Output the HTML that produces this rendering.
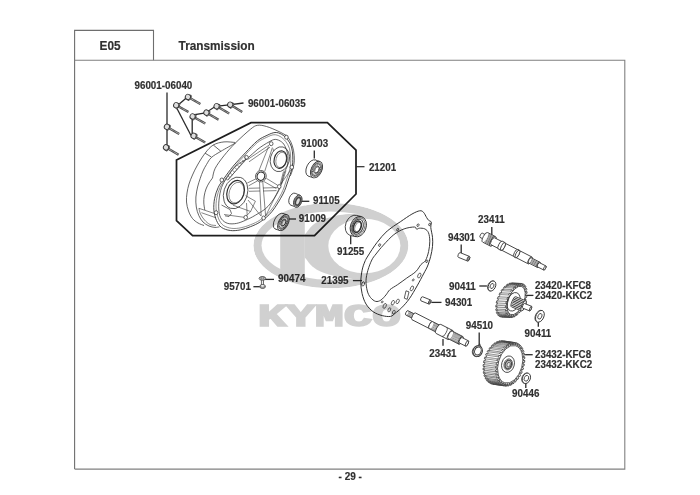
<!DOCTYPE html>
<html><head><meta charset="utf-8"><title>E05 Transmission</title>
<style>
html,body{margin:0;padding:0;background:#fff;}
body{width:700px;height:495px;overflow:hidden;position:relative;font-family:"Liberation Sans",Arial,sans-serif;}
svg{position:absolute;left:0;top:0;display:block}
svg text{font-family:"Liberation Sans",Arial,sans-serif;font-weight:bold;}
</style></head><body>
<svg width="700" height="495" viewBox="0 0 700 495">
<path d="M74.60 469.00 L74.60 30.40 L153.50 30.40 L153.50 60.30" fill="none" stroke="#6e6e6e" stroke-width="1.1" />
<path d="M74.60 60.30 L624.80 60.30 L624.80 469.10 L74.60 469.10" fill="none" stroke="#808080" stroke-width="1.1" />
<text transform="translate(110.00 49.50) scale(0.968 1)" font-size="12.21" text-anchor="middle" fill="#303030" stroke="#303030" stroke-width="0.18" >E05</text>
<text transform="translate(178.60 49.50) scale(0.968 1)" font-size="12.21" text-anchor="start" fill="#303030" stroke="#303030" stroke-width="0.18" >Transmission</text>
<text transform="translate(350.20 479.90) scale(0.968 1)" font-size="10.35" text-anchor="middle" fill="#303030" stroke="#303030" stroke-width="0.18" >- 29 -</text>
<path d="M176.50 160.00 L251.00 122.70 L327.40 122.70 L356.00 150.00 L356.00 194.00 L314.50 235.70 L192.60 235.70 L176.50 220.70Z" fill="none" stroke="#1e1e1e" stroke-width="1.75" />
<line x1="356.00" y1="166.70" x2="364.50" y2="166.70" stroke="#2a2a2a" stroke-width="1.2" />
<text transform="translate(134.50 88.80) scale(0.968 1)" font-size="10.14" text-anchor="start" fill="#303030" stroke="#303030" stroke-width="0.18" >96001-06040</text>
<text transform="translate(247.90 106.70) scale(0.968 1)" font-size="10.14" text-anchor="start" fill="#303030" stroke="#303030" stroke-width="0.18" >96001-06035</text>
<text transform="translate(300.90 146.50) scale(0.968 1)" font-size="10.14" text-anchor="start" fill="#303030" stroke="#303030" stroke-width="0.18" >91003</text>
<text transform="translate(368.90 170.70) scale(0.968 1)" font-size="10.14" text-anchor="start" fill="#303030" stroke="#303030" stroke-width="0.18" >21201</text>
<text transform="translate(313.00 204.30) scale(0.968 1)" font-size="10.14" text-anchor="start" fill="#303030" stroke="#303030" stroke-width="0.18" >91105</text>
<text transform="translate(298.80 222.40) scale(0.968 1)" font-size="10.14" text-anchor="start" fill="#303030" stroke="#303030" stroke-width="0.18" >91009</text>
<text transform="translate(337.00 255.00) scale(0.968 1)" font-size="10.14" text-anchor="start" fill="#303030" stroke="#303030" stroke-width="0.18" >91255</text>
<text transform="translate(448.00 241.40) scale(0.968 1)" font-size="10.14" text-anchor="start" fill="#303030" stroke="#303030" stroke-width="0.18" >94301</text>
<text transform="translate(478.10 222.70) scale(0.968 1)" font-size="10.14" text-anchor="start" fill="#303030" stroke="#303030" stroke-width="0.18" >23411</text>
<text transform="translate(278.10 282.40) scale(0.968 1)" font-size="10.14" text-anchor="start" fill="#303030" stroke="#303030" stroke-width="0.18" >90474</text>
<text transform="translate(223.70 289.70) scale(0.968 1)" font-size="10.14" text-anchor="start" fill="#303030" stroke="#303030" stroke-width="0.18" >95701</text>
<text transform="translate(321.30 284.00) scale(0.968 1)" font-size="10.14" text-anchor="start" fill="#303030" stroke="#303030" stroke-width="0.18" >21395</text>
<text transform="translate(449.10 289.70) scale(0.968 1)" font-size="10.14" text-anchor="start" fill="#303030" stroke="#303030" stroke-width="0.18" >90411</text>
<text transform="translate(534.90 288.80) scale(0.968 1)" font-size="10.14" text-anchor="start" fill="#303030" stroke="#303030" stroke-width="0.18" >23420-KFC8</text>
<text transform="translate(534.90 299.30) scale(0.968 1)" font-size="10.14" text-anchor="start" fill="#303030" stroke="#303030" stroke-width="0.18" >23420-KKC2</text>
<text transform="translate(445.00 306.10) scale(0.968 1)" font-size="10.14" text-anchor="start" fill="#303030" stroke="#303030" stroke-width="0.18" >94301</text>
<text transform="translate(524.60 337.00) scale(0.968 1)" font-size="10.14" text-anchor="start" fill="#303030" stroke="#303030" stroke-width="0.18" >90411</text>
<text transform="translate(465.80 328.50) scale(0.968 1)" font-size="10.14" text-anchor="start" fill="#303030" stroke="#303030" stroke-width="0.18" >94510</text>
<text transform="translate(429.30 356.70) scale(0.968 1)" font-size="10.14" text-anchor="start" fill="#303030" stroke="#303030" stroke-width="0.18" >23431</text>
<text transform="translate(535.00 357.50) scale(0.968 1)" font-size="10.14" text-anchor="start" fill="#303030" stroke="#303030" stroke-width="0.18" >23432-KFC8</text>
<text transform="translate(535.00 368.40) scale(0.968 1)" font-size="10.14" text-anchor="start" fill="#303030" stroke="#303030" stroke-width="0.18" >23432-KKC2</text>
<text transform="translate(512.10 397.00) scale(0.968 1)" font-size="10.14" text-anchor="start" fill="#303030" stroke="#303030" stroke-width="0.18" >90446</text>
<line x1="167.00" y1="92.50" x2="167.00" y2="148.00" stroke="#2a2a2a" stroke-width="1.3" />
<path d="M186.00 98.30 L177.80 105.30" fill="none" stroke="#2a2a2a" stroke-width="1.3" />
<path d="M176.20 107.00 L191.00 135.50" fill="none" stroke="#2a2a2a" stroke-width="1.3" />
<path d="M192.20 135.00 L192.20 115.00 L205.50 113.00 L215.50 106.30 L229.00 104.80 L243.50 103.00" fill="none" stroke="#2a2a2a" stroke-width="1.3" />
<line x1="314.30" y1="150.40" x2="314.30" y2="158.50" stroke="#2a2a2a" stroke-width="1.3" />
<line x1="301.00" y1="201.30" x2="309.30" y2="201.30" stroke="#2a2a2a" stroke-width="1.3" />
<line x1="289.00" y1="219.00" x2="296.00" y2="219.00" stroke="#2a2a2a" stroke-width="1.3" />
<line x1="350.70" y1="235.60" x2="350.70" y2="244.20" stroke="#2a2a2a" stroke-width="1.3" />
<line x1="461.20" y1="244.50" x2="461.20" y2="253.00" stroke="#2a2a2a" stroke-width="1.3" />
<line x1="491.80" y1="227.00" x2="491.80" y2="235.50" stroke="#2a2a2a" stroke-width="1.3" />
<line x1="264.90" y1="279.40" x2="274.00" y2="279.40" stroke="#2a2a2a" stroke-width="1.3" />
<line x1="253.40" y1="286.70" x2="259.80" y2="286.70" stroke="#2a2a2a" stroke-width="1.3" />
<line x1="352.90" y1="280.60" x2="362.00" y2="280.60" stroke="#2a2a2a" stroke-width="1.3" />
<line x1="479.30" y1="286.00" x2="486.90" y2="286.00" stroke="#2a2a2a" stroke-width="1.3" />
<line x1="526.40" y1="295.40" x2="533.40" y2="295.40" stroke="#2a2a2a" stroke-width="1.3" />
<line x1="431.30" y1="302.40" x2="441.50" y2="302.40" stroke="#2a2a2a" stroke-width="1.3" />
<line x1="538.30" y1="321.00" x2="538.30" y2="326.70" stroke="#2a2a2a" stroke-width="1.3" />
<line x1="479.20" y1="332.60" x2="479.20" y2="345.70" stroke="#2a2a2a" stroke-width="1.3" />
<line x1="443.00" y1="338.90" x2="443.00" y2="345.70" stroke="#2a2a2a" stroke-width="1.3" />
<line x1="525.10" y1="354.70" x2="532.70" y2="354.70" stroke="#2a2a2a" stroke-width="1.3" />
<line x1="525.80" y1="383.30" x2="525.80" y2="387.90" stroke="#2a2a2a" stroke-width="1.3" />
<line x1="189.81" y1="97.99" x2="200.40" y2="104.00" stroke="#4a4a4a" stroke-width="2.3" stroke-linecap="butt"/>
<line x1="189.81" y1="97.99" x2="200.40" y2="104.00" stroke="#e6e6e6" stroke-width="1.0" stroke-dasharray="0.7 0.7"/>
<ellipse cx="189.55" cy="97.84" rx="1.30" ry="3.10" transform="rotate(29.596575037530357 189.55 97.84)" fill="#f2f2f2" stroke="#333" stroke-width="0.7"/>
<ellipse cx="187.90" cy="96.90" rx="2.60" ry="2.70" transform="rotate(29.596575037530357 187.90 96.90)" fill="#dedede" stroke="#333" stroke-width="0.9"/>
<line x1="178.13" y1="106.26" x2="188.50" y2="112.00" stroke="#4a4a4a" stroke-width="2.3" stroke-linecap="butt"/>
<line x1="178.13" y1="106.26" x2="188.50" y2="112.00" stroke="#e6e6e6" stroke-width="1.0" stroke-dasharray="0.7 0.7"/>
<ellipse cx="177.86" cy="106.12" rx="1.30" ry="3.10" transform="rotate(28.935815507328336 177.86 106.12)" fill="#f2f2f2" stroke="#333" stroke-width="0.7"/>
<ellipse cx="176.20" cy="105.20" rx="2.60" ry="2.70" transform="rotate(28.935815507328336 176.20 105.20)" fill="#dedede" stroke="#333" stroke-width="0.9"/>
<line x1="168.81" y1="127.90" x2="179.20" y2="133.90" stroke="#4a4a4a" stroke-width="2.3" stroke-linecap="butt"/>
<line x1="168.81" y1="127.90" x2="179.20" y2="133.90" stroke="#e6e6e6" stroke-width="1.0" stroke-dasharray="0.7 0.7"/>
<ellipse cx="168.55" cy="127.75" rx="1.30" ry="3.10" transform="rotate(29.995079617139844 168.55 127.75)" fill="#f2f2f2" stroke="#333" stroke-width="0.7"/>
<ellipse cx="166.90" cy="126.80" rx="2.60" ry="2.70" transform="rotate(29.995079617139844 166.90 126.80)" fill="#dedede" stroke="#333" stroke-width="0.9"/>
<line x1="167.90" y1="148.50" x2="178.60" y2="154.70" stroke="#4a4a4a" stroke-width="2.3" stroke-linecap="butt"/>
<line x1="167.90" y1="148.50" x2="178.60" y2="154.70" stroke="#e6e6e6" stroke-width="1.0" stroke-dasharray="0.7 0.7"/>
<ellipse cx="167.64" cy="148.35" rx="1.30" ry="3.10" transform="rotate(30.086504554000182 167.64 148.35)" fill="#f2f2f2" stroke="#333" stroke-width="0.7"/>
<ellipse cx="166.00" cy="147.40" rx="2.60" ry="2.70" transform="rotate(30.086504554000182 166.00 147.40)" fill="#dedede" stroke="#333" stroke-width="0.9"/>
<line x1="194.51" y1="117.49" x2="205.30" y2="123.60" stroke="#4a4a4a" stroke-width="2.3" stroke-linecap="butt"/>
<line x1="194.51" y1="117.49" x2="205.30" y2="123.60" stroke="#e6e6e6" stroke-width="1.0" stroke-dasharray="0.7 0.7"/>
<ellipse cx="194.25" cy="117.34" rx="1.30" ry="3.10" transform="rotate(29.55016401934337 194.25 117.34)" fill="#f2f2f2" stroke="#333" stroke-width="0.7"/>
<ellipse cx="192.60" cy="116.40" rx="2.60" ry="2.70" transform="rotate(29.55016401934337 192.60 116.40)" fill="#dedede" stroke="#333" stroke-width="0.9"/>
<line x1="208.29" y1="113.72" x2="218.60" y2="119.80" stroke="#4a4a4a" stroke-width="2.3" stroke-linecap="butt"/>
<line x1="208.29" y1="113.72" x2="218.60" y2="119.80" stroke="#e6e6e6" stroke-width="1.0" stroke-dasharray="0.7 0.7"/>
<ellipse cx="208.04" cy="113.57" rx="1.30" ry="3.10" transform="rotate(30.547571748907053 208.04 113.57)" fill="#f2f2f2" stroke="#333" stroke-width="0.7"/>
<ellipse cx="206.40" cy="112.60" rx="2.60" ry="2.70" transform="rotate(30.547571748907053 206.40 112.60)" fill="#dedede" stroke="#333" stroke-width="0.9"/>
<line x1="218.50" y1="107.30" x2="229.20" y2="113.50" stroke="#4a4a4a" stroke-width="2.3" stroke-linecap="butt"/>
<line x1="218.50" y1="107.30" x2="229.20" y2="113.50" stroke="#e6e6e6" stroke-width="1.0" stroke-dasharray="0.7 0.7"/>
<ellipse cx="218.24" cy="107.15" rx="1.30" ry="3.10" transform="rotate(30.08650455400023 218.24 107.15)" fill="#f2f2f2" stroke="#333" stroke-width="0.7"/>
<ellipse cx="216.60" cy="106.20" rx="2.60" ry="2.70" transform="rotate(30.08650455400023 216.60 106.20)" fill="#dedede" stroke="#333" stroke-width="0.9"/>
<line x1="232.08" y1="105.84" x2="242.20" y2="112.00" stroke="#4a4a4a" stroke-width="2.3" stroke-linecap="butt"/>
<line x1="232.08" y1="105.84" x2="242.20" y2="112.00" stroke="#e6e6e6" stroke-width="1.0" stroke-dasharray="0.7 0.7"/>
<ellipse cx="231.82" cy="105.69" rx="1.30" ry="3.10" transform="rotate(31.31354327018971 231.82 105.69)" fill="#f2f2f2" stroke="#333" stroke-width="0.7"/>
<ellipse cx="230.20" cy="104.70" rx="2.60" ry="2.70" transform="rotate(31.31354327018971 230.20 104.70)" fill="#dedede" stroke="#333" stroke-width="0.9"/>
<line x1="195.50" y1="136.91" x2="205.20" y2="142.60" stroke="#4a4a4a" stroke-width="2.3" stroke-linecap="butt"/>
<line x1="195.50" y1="136.91" x2="205.20" y2="142.60" stroke="#e6e6e6" stroke-width="1.0" stroke-dasharray="0.7 0.7"/>
<ellipse cx="195.24" cy="136.76" rx="1.30" ry="3.10" transform="rotate(30.379126011368292 195.24 136.76)" fill="#f2f2f2" stroke="#333" stroke-width="0.7"/>
<ellipse cx="193.60" cy="135.80" rx="2.60" ry="2.70" transform="rotate(30.379126011368292 193.60 135.80)" fill="#dedede" stroke="#333" stroke-width="0.9"/>
<path d="M235.30 142.50 C233.42 142.40 227.67 141.48 224.00 141.90 C220.33 142.32 216.45 143.12 213.30 145.00 C210.15 146.88 207.73 149.87 205.10 153.20 C202.47 156.53 199.60 161.37 197.50 165.00 C195.40 168.63 193.92 171.83 192.50 175.00 C191.08 178.17 189.92 181.00 189.00 184.00 C188.08 187.00 187.42 190.00 187.00 193.00 C186.58 196.00 186.25 199.00 186.50 202.00 C186.75 205.00 187.50 208.25 188.50 211.00 C189.50 213.75 190.92 216.50 192.50 218.50 C194.08 220.50 196.08 221.83 198.00 223.00 C199.92 224.17 203.00 225.08 204.00 225.50" fill="none" stroke="#333" stroke-width="0.75" />
<path d="M235.30 143.10 C232.90 144.47 224.88 148.90 220.90 151.30 C216.92 153.70 213.80 155.30 211.40 157.50 C209.00 159.70 207.90 162.25 206.50 164.50 C205.10 166.75 204.05 168.67 203.00 171.00 C201.95 173.33 201.10 175.83 200.20 178.50 C199.30 181.17 198.32 183.92 197.60 187.00 C196.88 190.08 196.12 193.67 195.90 197.00 C195.68 200.33 195.82 203.92 196.30 207.00 C196.78 210.08 197.68 213.00 198.80 215.50 C199.92 218.00 201.30 220.25 203.00 222.00 C204.70 223.75 207.00 225.10 209.00 226.00 C211.00 226.90 213.25 227.27 215.00 227.40 C216.75 227.53 218.75 226.90 219.50 226.80" fill="none" stroke="#333" stroke-width="0.75" />
<path d="M205.10 153.20 L211.40 157.00" fill="none" stroke="#333" stroke-width="0.75" />
<path d="M213.30 145.00 L220.90 151.30" fill="none" stroke="#333" stroke-width="0.75" />
<path d="M212.50 178.00 C212.95 176.38 213.28 172.02 215.20 168.30 C217.12 164.58 220.65 159.90 224.00 155.70 C227.35 151.50 230.90 147.50 235.30 143.10 C239.70 138.70 246.70 132.27 250.40 129.30 C254.10 126.33 254.82 125.77 257.50 125.30 C260.18 124.83 263.12 125.55 266.50 126.50 C269.88 127.45 274.45 129.48 277.80 131.00 C281.15 132.52 285.13 134.83 286.60 135.60" fill="none" stroke="#333" stroke-width="0.75" />
<path d="M267.10 135.30 C270.03 133.92 272.58 132.67 275.00 132.50 C277.42 132.33 279.52 133.13 281.60 134.30 C283.68 135.47 285.85 137.38 287.50 139.50 C289.15 141.62 290.62 144.08 291.50 147.00 C292.38 149.92 292.72 153.50 292.80 157.00 C292.88 160.50 292.80 164.00 292.00 168.00 C291.20 172.00 289.50 176.67 288.00 181.00 C286.50 185.33 285.67 188.92 283.00 194.00 C280.33 199.08 275.75 206.88 272.00 211.50 C268.25 216.12 264.10 219.17 260.50 221.70 C256.90 224.23 253.77 225.33 250.40 226.70 C247.03 228.07 243.65 229.27 240.30 229.90 C236.95 230.53 233.43 230.92 230.30 230.50 C227.17 230.08 223.80 229.07 221.50 227.40 C219.20 225.73 217.77 223.37 216.50 220.50 C215.23 217.63 214.22 213.87 213.90 210.20 C213.58 206.53 213.88 202.28 214.60 198.50 C215.32 194.72 216.62 190.87 218.20 187.50 C219.78 184.13 221.60 181.85 224.10 178.30 C226.60 174.75 229.67 170.43 233.20 166.20 C236.73 161.97 241.27 157.13 245.30 152.90 C249.33 148.67 253.77 143.73 257.40 140.80 C261.03 137.87 264.17 136.68 267.10 135.30Z" fill="#fff" stroke="#333" stroke-width="0.9" />
<path d="M266.41 137.41 C269.19 136.09 271.60 134.90 273.88 134.74 C276.16 134.58 278.15 135.34 280.12 136.46 C282.09 137.57 284.13 139.40 285.69 141.42 C287.25 143.44 288.64 145.80 289.47 148.59 C290.31 151.37 290.62 154.79 290.70 158.14 C290.78 161.48 290.70 164.82 289.95 168.64 C289.19 172.46 287.58 176.92 286.17 181.06 C284.75 185.19 283.96 188.62 281.44 193.47 C278.92 198.32 274.59 205.77 271.05 210.18 C267.50 214.59 263.58 217.50 260.18 219.92 C256.78 222.34 253.81 223.39 250.63 224.70 C247.45 226.00 244.25 227.15 241.09 227.75 C237.92 228.36 234.60 228.73 231.64 228.33 C228.68 227.93 225.50 226.96 223.32 225.37 C221.15 223.78 219.79 221.52 218.60 218.78 C217.40 216.04 216.44 212.44 216.14 208.94 C215.84 205.44 216.12 201.38 216.80 197.77 C217.48 194.15 218.71 190.48 220.20 187.26 C221.70 184.05 223.42 181.87 225.78 178.48 C228.14 175.09 231.04 170.96 234.38 166.92 C237.72 162.88 242.00 158.26 245.81 154.22 C249.63 150.18 253.81 145.47 257.25 142.66 C260.68 139.86 263.64 138.73 266.41 137.41Z" fill="none" stroke="#333" stroke-width="0.55" />
<path d="M269.00 141.90 C271.88 140.30 273.20 139.40 275.30 139.40 C277.40 139.40 279.93 140.65 281.60 141.90 C283.27 143.15 284.25 144.60 285.30 146.90 C286.35 149.20 287.58 152.55 287.90 155.70 C288.22 158.85 287.83 162.87 287.20 165.80 C286.57 168.73 285.47 169.27 284.10 173.30 C282.73 177.33 281.68 184.48 279.00 190.00 C276.32 195.52 271.93 202.20 268.00 206.40 C264.07 210.60 259.17 212.88 255.40 215.20 C251.63 217.52 248.53 218.93 245.40 220.30 C242.27 221.67 239.53 222.88 236.60 223.40 C233.67 223.92 230.32 224.13 227.80 223.40 C225.28 222.67 222.97 220.98 221.50 219.00 C220.03 217.02 219.42 214.65 219.00 211.50 C218.58 208.35 218.58 204.08 219.00 200.10 C219.42 196.12 220.15 191.37 221.50 187.60 C222.85 183.83 224.68 181.10 227.10 177.50 C229.52 173.90 232.58 169.22 236.00 166.00 C239.42 162.78 243.93 161.03 247.60 158.20 C251.27 155.37 254.43 151.72 258.00 149.00 C261.57 146.28 266.12 143.50 269.00 141.90Z" fill="none" stroke="#333" stroke-width="0.75" />
<path d="M286.60 135.60 C287.30 136.65 289.63 139.38 290.80 141.90 C291.97 144.42 293.02 147.57 293.60 150.70 C294.18 153.83 294.40 157.77 294.30 160.70 C294.20 163.63 293.65 165.78 293.00 168.30 C292.35 170.82 290.83 174.55 290.40 175.80" fill="none" stroke="#333" stroke-width="0.75" />
<ellipse cx="279.90" cy="159.20" rx="9.50" ry="12.60" transform="rotate(14 279.90 159.20)" fill="none" stroke="#333" stroke-width="0.75"/>
<ellipse cx="280.40" cy="159.60" rx="6.20" ry="8.90" transform="rotate(14 280.40 159.60)" fill="none" stroke="#2e2e2e" stroke-width="1.15"/>
<ellipse cx="281.10" cy="159.90" rx="5.10" ry="7.80" transform="rotate(14 281.10 159.90)" fill="none" stroke="#333" stroke-width="0.5"/>
<ellipse cx="235.60" cy="192.90" rx="11.80" ry="16.20" transform="rotate(18 235.60 192.90)" fill="none" stroke="#333" stroke-width="0.75"/>
<ellipse cx="235.60" cy="192.20" rx="8.50" ry="12.00" transform="rotate(18 235.60 192.20)" fill="none" stroke="#2e2e2e" stroke-width="1.2"/>
<ellipse cx="236.50" cy="192.60" rx="7.20" ry="10.60" transform="rotate(18 236.50 192.60)" fill="none" stroke="#333" stroke-width="0.5"/>
<ellipse cx="260.90" cy="176.20" rx="5.30" ry="5.70" transform="rotate(15 260.90 176.20)" fill="none" stroke="#333" stroke-width="0.75"/>
<ellipse cx="260.90" cy="176.20" rx="3.80" ry="4.20" transform="rotate(15 260.90 176.20)" fill="none" stroke="#2e2e2e" stroke-width="1.1"/>
<ellipse cx="286.40" cy="137.20" rx="1.80" ry="2.00" transform="rotate(0 286.40 137.20)" fill="#fff" stroke="#333" stroke-width="0.75"/>
<ellipse cx="271.20" cy="143.70" rx="1.80" ry="2.00" transform="rotate(0 271.20 143.70)" fill="#fff" stroke="#333" stroke-width="0.75"/>
<ellipse cx="246.50" cy="157.40" rx="1.80" ry="2.00" transform="rotate(0 246.50 157.40)" fill="#fff" stroke="#333" stroke-width="0.75"/>
<ellipse cx="291.80" cy="167.20" rx="1.80" ry="2.00" transform="rotate(0 291.80 167.20)" fill="#fff" stroke="#333" stroke-width="0.75"/>
<ellipse cx="216.10" cy="212.70" rx="1.80" ry="2.00" transform="rotate(0 216.10 212.70)" fill="#fff" stroke="#333" stroke-width="0.75"/>
<ellipse cx="245.70" cy="217.40" rx="1.80" ry="2.00" transform="rotate(0 245.70 217.40)" fill="#fff" stroke="#333" stroke-width="0.75"/>
<ellipse cx="263.60" cy="218.00" rx="1.80" ry="2.00" transform="rotate(0 263.60 218.00)" fill="#fff" stroke="#333" stroke-width="0.75"/>
<ellipse cx="221.80" cy="180.00" rx="1.80" ry="2.00" transform="rotate(0 221.80 180.00)" fill="#fff" stroke="#333" stroke-width="0.75"/>
<ellipse cx="279.20" cy="186.60" rx="1.80" ry="2.00" transform="rotate(0 279.20 186.60)" fill="#fff" stroke="#333" stroke-width="0.75"/>
<path d="M268.60 146.50 L259.00 170.50" fill="none" stroke="#333" stroke-width="0.6" />
<path d="M272.40 147.50 L264.70 171.40" fill="none" stroke="#333" stroke-width="0.6" />
<path d="M266.40 178.40 L277.60 185.20" fill="none" stroke="#333" stroke-width="0.6" />
<path d="M263.90 181.50 L276.40 188.60" fill="none" stroke="#333" stroke-width="0.6" />
<path d="M259.50 182.00 L261.20 215.80" fill="none" stroke="#333" stroke-width="0.6" />
<path d="M262.80 182.00 L265.60 215.80" fill="none" stroke="#333" stroke-width="0.6" />
<path d="M248.60 188.30 L259.80 188.00" fill="none" stroke="#333" stroke-width="0.6" />
<path d="M263.00 188.00 L277.00 187.60" fill="none" stroke="#333" stroke-width="0.6" />
<path d="M249.00 191.30 L260.00 191.00" fill="none" stroke="#333" stroke-width="0.6" />
<path d="M263.20 191.00 L276.50 190.60" fill="none" stroke="#333" stroke-width="0.6" />
<path d="M256.20 178.70 L247.30 183.00" fill="none" stroke="#333" stroke-width="0.6" />
<path d="M257.60 180.80 L248.60 185.80" fill="none" stroke="#333" stroke-width="0.6" />
<path d="M247.60 159.50 L269.00 145.20" fill="none" stroke="#333" stroke-width="0.6" />
<path d="M249.00 161.80 L270.00 147.20" fill="none" stroke="#333" stroke-width="0.6" />
<path d="M248.00 200.00 L261.00 216.00" fill="none" stroke="#333" stroke-width="0.6" />
<path d="M246.50 203.00 L247.20 215.30" fill="none" stroke="#333" stroke-width="0.6" />
<path d="M265.60 216.00 L279.00 189.00" fill="none" stroke="#333" stroke-width="0.6" />
<path d="M280.50 184.50 L291.00 169.50" fill="none" stroke="#333" stroke-width="0.6" />
<path d="M224.00 214.50 L244.00 217.30" fill="none" stroke="#333" stroke-width="0.6" />
<path d="M246.00 158.80 L228.00 180.00" fill="none" stroke="#333" stroke-width="0.6" />
<path d="M283.50 171.50 L280.20 184.20" fill="none" stroke="#333" stroke-width="0.6" />
<path d="M286.00 170.50 L281.50 184.50" fill="none" stroke="#333" stroke-width="0.6" />
<path d="M273.00 148.50 L273.50 151.00" fill="none" stroke="#333" stroke-width="0.6" />
<path d="M212.50 178.00 C211.92 178.83 210.08 181.17 209.00 183.00 C207.92 184.83 206.80 186.83 206.00 189.00 C205.20 191.17 204.57 193.67 204.20 196.00 C203.83 198.33 203.70 200.67 203.80 203.00 C203.90 205.33 204.63 208.83 204.80 210.00" fill="none" stroke="#333" stroke-width="0.75" />
<path d="M198.90 208.30 L214.50 213.50" fill="none" stroke="#333" stroke-width="0.6" />
<path d="M201.40 212.70 L216.00 217.80" fill="none" stroke="#333" stroke-width="0.6" />
<path d="M198.90 208.30 C199.17 209.25 199.57 212.05 200.50 214.00 C201.43 215.95 202.92 218.25 204.50 220.00 C206.08 221.75 208.08 223.58 210.00 224.50 C211.92 225.42 215.00 225.33 216.00 225.50" fill="none" stroke="#333" stroke-width="0.6" />
<path d="M221.50 205.00 L230.00 209.50 L231.50 213.50 L229.00 216.50 L225.00 215.80" fill="none" stroke="#333" stroke-width="0.7" />
<path d="M245.60 195.70 L255.40 201.20 L250.60 211.50 L233.00 205.20" fill="none" stroke="#333" stroke-width="0.6" />
<path d="M250.60 211.50 L246.50 215.80" fill="none" stroke="#333" stroke-width="0.6" />
<path d="M225.50 178.50 L227.70 180.10" fill="none" stroke="#333" stroke-width="0.5" />
<path d="M227.88 175.88 L230.07 177.47" fill="none" stroke="#333" stroke-width="0.5" />
<path d="M230.25 173.25 L232.45 174.85" fill="none" stroke="#333" stroke-width="0.5" />
<path d="M232.62 170.62 L234.82 172.22" fill="none" stroke="#333" stroke-width="0.5" />
<path d="M235.00 168.00 L237.20 169.60" fill="none" stroke="#333" stroke-width="0.5" />
<path d="M237.38 165.38 L239.57 166.97" fill="none" stroke="#333" stroke-width="0.5" />
<path d="M239.75 162.75 L241.95 164.35" fill="none" stroke="#333" stroke-width="0.5" />
<path d="M242.12 160.12 L244.32 161.72" fill="none" stroke="#333" stroke-width="0.5" />
<path d="M244.50 157.50 L246.70 159.10" fill="none" stroke="#333" stroke-width="0.5" />
<path d="M227.30 180.30 L246.50 159.20" fill="none" stroke="#333" stroke-width="0.5" />
<ellipse cx="311.90" cy="168.10" rx="5.30" ry="8.80" transform="rotate(25 311.90 168.10)" fill="#fff" stroke="#333" stroke-width="0.8"/>
<path d="M313.14 177.72 L308.54 176.22 L315.26 159.98 L319.86 161.48Z" fill="#fff" stroke="none" stroke-width="0" />
<line x1="313.14" y1="177.72" x2="308.54" y2="176.22" stroke="#333" stroke-width="0.8" />
<line x1="319.86" y1="161.48" x2="315.26" y2="159.98" stroke="#333" stroke-width="0.8" />
<ellipse cx="316.50" cy="169.60" rx="5.30" ry="8.80" transform="rotate(25 316.50 169.60)" fill="#fff" stroke="#333" stroke-width="0.9"/>
<ellipse cx="316.50" cy="169.60" rx="4.45" ry="7.39" transform="rotate(25 316.50 169.60)" fill="none" stroke="#333" stroke-width="0.6"/>
<ellipse cx="316.50" cy="169.60" rx="3.71" ry="6.16" transform="rotate(25 316.50 169.60)" fill="none" stroke="#555" stroke-width="1.378"/>
<ellipse cx="316.50" cy="169.60" rx="3.60" ry="5.98" transform="rotate(25 316.50 169.60)" fill="none" stroke="#eee" stroke-width="0.64" stroke-dasharray="1.1 1.3"/>
<ellipse cx="316.50" cy="169.60" rx="2.44" ry="4.05" transform="rotate(25 316.50 169.60)" fill="#fff" stroke="#333" stroke-width="0.8"/>
<ellipse cx="317.00" cy="169.80" rx="1.95" ry="3.24" transform="rotate(25 317.00 169.80)" fill="none" stroke="#333" stroke-width="0.6"/>
<ellipse cx="279.20" cy="221.30" rx="4.80" ry="8.70" transform="rotate(28 279.20 221.30)" fill="#fff" stroke="#333" stroke-width="0.8"/>
<path d="M279.78 230.48 L275.58 229.18 L282.82 213.42 L287.02 214.72Z" fill="#fff" stroke="none" stroke-width="0" />
<line x1="279.78" y1="230.48" x2="275.58" y2="229.18" stroke="#333" stroke-width="0.8" />
<line x1="287.02" y1="214.72" x2="282.82" y2="213.42" stroke="#333" stroke-width="0.8" />
<ellipse cx="283.40" cy="222.60" rx="4.80" ry="8.70" transform="rotate(28 283.40 222.60)" fill="#fff" stroke="#333" stroke-width="0.9"/>
<ellipse cx="283.40" cy="222.60" rx="4.03" ry="7.31" transform="rotate(28 283.40 222.60)" fill="none" stroke="#333" stroke-width="0.6"/>
<ellipse cx="283.40" cy="222.60" rx="3.36" ry="6.09" transform="rotate(28 283.40 222.60)" fill="none" stroke="#555" stroke-width="1.248"/>
<ellipse cx="283.40" cy="222.60" rx="3.26" ry="5.92" transform="rotate(28 283.40 222.60)" fill="none" stroke="#eee" stroke-width="0.58" stroke-dasharray="1.1 1.3"/>
<ellipse cx="283.40" cy="222.60" rx="2.11" ry="3.83" transform="rotate(28 283.40 222.60)" fill="#fff" stroke="#333" stroke-width="0.8"/>
<ellipse cx="283.90" cy="222.80" rx="1.69" ry="3.06" transform="rotate(28 283.90 222.80)" fill="none" stroke="#333" stroke-width="0.6"/>
<ellipse cx="293.00" cy="199.20" rx="3.90" ry="6.30" transform="rotate(20 293.00 199.20)" fill="#fff" stroke="#333" stroke-width="0.8"/>
<path d="M295.54 207.08 L290.74 205.08 L295.26 193.32 L300.06 195.32Z" fill="#fff" stroke="none" stroke-width="0" />
<line x1="295.54" y1="207.08" x2="290.74" y2="205.08" stroke="#333" stroke-width="0.8" />
<line x1="300.06" y1="195.32" x2="295.26" y2="193.32" stroke="#333" stroke-width="0.8" />
<ellipse cx="297.80" cy="201.20" rx="3.90" ry="6.30" transform="rotate(20 297.80 201.20)" fill="#fff" stroke="#333" stroke-width="0.9"/>
<ellipse cx="297.80" cy="201.20" rx="3.10" ry="5.20" transform="rotate(20 297.80 201.20)" fill="none" stroke="#333" stroke-width="0.6"/>
<ellipse cx="298.00" cy="201.30" rx="2.20" ry="4.00" transform="rotate(20 298.00 201.30)" fill="#ddd" stroke="#444" stroke-width="1.5"/>
<ellipse cx="353.40" cy="225.40" rx="7.80" ry="10.50" transform="rotate(20 353.40 225.40)" fill="#fff" stroke="#333" stroke-width="0.8"/>
<path d="M355.31 236.65 L350.41 235.45 L356.39 215.35 L361.29 216.55Z" fill="#fff" stroke="none" stroke-width="0" />
<line x1="355.31" y1="236.65" x2="350.41" y2="235.45" stroke="#333" stroke-width="0.8" />
<line x1="361.29" y1="216.55" x2="356.39" y2="215.35" stroke="#333" stroke-width="0.8" />
<ellipse cx="358.30" cy="226.60" rx="7.80" ry="10.50" transform="rotate(20 358.30 226.60)" fill="#fff" stroke="#333" stroke-width="0.9"/>
<ellipse cx="358.10" cy="226.60" rx="6.60" ry="9.20" transform="rotate(20 358.10 226.60)" fill="none" stroke="#333" stroke-width="0.6"/>
<ellipse cx="357.70" cy="226.70" rx="5.30" ry="7.80" transform="rotate(20 357.70 226.70)" fill="none" stroke="#444" stroke-width="1.0"/>
<ellipse cx="357.30" cy="226.80" rx="3.70" ry="5.90" transform="rotate(20 357.30 226.80)" fill="none" stroke="#333" stroke-width="1.6"/>
<ellipse cx="357.90" cy="227.00" rx="2.80" ry="4.90" transform="rotate(20 357.90 227.00)" fill="none" stroke="#333" stroke-width="0.5"/>
<path d="M419.70 210.80 C421.63 210.50 422.35 211.18 423.50 212.30 C424.65 213.42 425.75 216.17 426.60 217.50 C427.45 218.83 427.82 219.52 428.60 220.30 C429.38 221.08 430.93 220.98 431.30 222.20 C431.67 223.42 430.60 225.08 430.80 227.60 C431.00 230.12 432.22 234.17 432.50 237.30 C432.78 240.43 432.82 243.17 432.50 246.40 C432.18 249.63 431.42 253.43 430.60 256.70 C429.78 259.97 428.78 263.12 427.60 266.00 C426.42 268.88 425.25 270.68 423.50 274.00 C421.75 277.32 419.47 281.77 417.10 285.90 C414.73 290.03 411.88 295.15 409.30 298.80 C406.72 302.45 403.97 305.38 401.60 307.80 C399.23 310.22 396.95 311.87 395.10 313.30 C393.25 314.73 392.65 316.02 390.50 316.40 C388.35 316.78 385.10 316.38 382.20 315.60 C379.30 314.82 375.80 313.63 373.10 311.70 C370.40 309.77 367.83 307.02 366.00 304.00 C364.17 300.98 362.97 297.27 362.10 293.60 C361.23 289.93 360.80 285.88 360.80 282.00 C360.80 278.12 361.45 273.63 362.10 270.30 C362.75 266.97 363.73 264.38 364.70 262.00 C365.67 259.62 365.85 259.25 367.90 256.00 C369.95 252.75 373.77 246.68 377.00 242.50 C380.23 238.32 383.42 234.35 387.30 230.90 C391.18 227.45 396.20 224.60 400.30 221.80 C404.40 219.00 408.67 215.93 411.90 214.10 C415.13 212.27 417.77 211.10 419.70 210.80Z" fill="none" stroke="#333" stroke-width="1.0" />
<path d="M414.50 227.00 C416.58 227.05 415.78 229.00 416.60 229.20 C417.42 229.40 418.03 228.25 419.40 228.20 C420.77 228.15 423.28 228.13 424.80 228.90 C426.32 229.67 427.67 230.75 428.50 232.80 C429.33 234.85 429.78 238.07 429.80 241.20 C429.82 244.33 429.32 248.38 428.60 251.60 C427.88 254.82 426.77 258.35 425.50 260.50 C424.23 262.65 422.62 262.65 421.00 264.50 C419.38 266.35 418.18 269.33 415.80 271.60 C413.42 273.87 409.72 275.93 406.70 278.10 C403.68 280.27 400.50 282.67 397.70 284.60 C394.90 286.53 391.85 287.98 389.90 289.70 C387.95 291.42 387.50 293.17 386.00 294.90 C384.50 296.63 382.62 299.02 380.90 300.10 C379.18 301.18 377.43 301.83 375.70 301.40 C373.97 300.97 371.90 299.23 370.50 297.50 C369.10 295.77 368.05 293.80 367.30 291.00 C366.55 288.20 365.90 284.15 366.00 280.70 C366.10 277.25 366.93 273.75 367.90 270.30 C368.87 266.85 370.45 262.72 371.80 260.00 C373.15 257.28 374.07 256.48 376.00 254.00 C377.93 251.52 380.43 248.32 383.40 245.10 C386.37 241.88 390.35 237.40 393.80 234.70 C397.25 232.00 400.65 230.18 404.10 228.90 C407.55 227.62 412.42 226.95 414.50 227.00Z" fill="none" stroke="#333" stroke-width="0.95" />
<ellipse cx="379.60" cy="245.10" rx="0.90" ry="1.40" transform="rotate(25 379.60 245.10)" fill="none" stroke="#333" stroke-width="0.8"/>
<ellipse cx="397.70" cy="229.60" rx="0.90" ry="1.40" transform="rotate(25 397.70 229.60)" fill="none" stroke="#333" stroke-width="0.8"/>
<ellipse cx="418.00" cy="225.20" rx="0.90" ry="1.40" transform="rotate(25 418.00 225.20)" fill="none" stroke="#333" stroke-width="0.8"/>
<ellipse cx="429.70" cy="224.40" rx="0.90" ry="1.40" transform="rotate(25 429.70 224.40)" fill="none" stroke="#333" stroke-width="0.8"/>
<ellipse cx="426.80" cy="261.30" rx="0.90" ry="1.40" transform="rotate(25 426.80 261.30)" fill="none" stroke="#333" stroke-width="0.8"/>
<ellipse cx="363.20" cy="283.90" rx="1.30" ry="2.20" transform="rotate(20 363.20 283.90)" fill="none" stroke="#333" stroke-width="0.8"/>
<ellipse cx="419.30" cy="275.50" rx="1.40" ry="2.60" transform="rotate(25 419.30 275.50)" fill="none" stroke="#333" stroke-width="0.7"/>
<ellipse cx="413.20" cy="280.00" rx="0.70" ry="1.20" transform="rotate(25 413.20 280.00)" fill="none" stroke="#333" stroke-width="0.7"/>
<ellipse cx="411.90" cy="288.40" rx="1.40" ry="2.60" transform="rotate(25 411.90 288.40)" fill="none" stroke="#333" stroke-width="0.7"/>
<ellipse cx="397.70" cy="301.40" rx="1.40" ry="2.40" transform="rotate(25 397.70 301.40)" fill="none" stroke="#333" stroke-width="0.7"/>
<ellipse cx="392.90" cy="302.70" rx="1.40" ry="2.40" transform="rotate(25 392.90 302.70)" fill="none" stroke="#333" stroke-width="0.7"/>
<ellipse cx="384.70" cy="305.90" rx="1.40" ry="2.60" transform="rotate(25 384.70 305.90)" fill="none" stroke="#333" stroke-width="0.7"/>
<ellipse cx="389.30" cy="309.80" rx="1.20" ry="2.20" transform="rotate(25 389.30 309.80)" fill="none" stroke="#333" stroke-width="0.7"/>
<ellipse cx="393.80" cy="312.20" rx="1.20" ry="2.00" transform="rotate(25 393.80 312.20)" fill="none" stroke="#333" stroke-width="0.7"/>
<ellipse cx="382.20" cy="302.00" rx="0.70" ry="1.10" transform="rotate(25 382.20 302.00)" fill="none" stroke="#333" stroke-width="0.7"/>
<path d="M406.00 290.80 L409.00 291.90 L407.20 299.30 L404.30 298.20Z" fill="none" stroke="#333" stroke-width="0.8" />
<g transform="translate(481.20 235.30) rotate(27.20)">
<path d="M0.00 -2.40 L5.00 -2.40 A0.91 2.40 0 0 1 5.00 2.40 L0.00 2.40 A0.91 2.40 0 0 1 0.00 -2.40 Z" fill="#fff" stroke="#333" stroke-width="0.8" />
<ellipse cx="5.00" cy="0" rx="0.91" ry="2.40" fill="#fff" stroke="#333" stroke-width="0.8"/>
<path d="M4.50 -5.40 L13.00 -5.40 A2.05 5.40 0 0 1 13.00 5.40 L4.50 5.40 A2.05 5.40 0 0 1 4.50 -5.40 Z" fill="#fff" stroke="#333" stroke-width="0.8" />
<path d="M5.73 -4.32 L14.23 -4.32" stroke="#444" stroke-width="0.65"/>
<path d="M6.14 -3.24 L14.64 -3.24" stroke="#444" stroke-width="0.65"/>
<path d="M6.38 -2.16 L14.88 -2.16" stroke="#444" stroke-width="0.65"/>
<path d="M6.51 -1.08 L15.01 -1.08" stroke="#444" stroke-width="0.65"/>
<path d="M6.55 0.00 L15.05 0.00" stroke="#444" stroke-width="0.65"/>
<path d="M6.51 1.08 L15.01 1.08" stroke="#444" stroke-width="0.65"/>
<path d="M6.38 2.16 L14.88 2.16" stroke="#444" stroke-width="0.65"/>
<path d="M6.14 3.24 L14.64 3.24" stroke="#444" stroke-width="0.65"/>
<path d="M5.73 4.32 L14.23 4.32" stroke="#444" stroke-width="0.65"/>
<ellipse cx="13.00" cy="0" rx="2.05" ry="5.40" fill="#fff" stroke="#333" stroke-width="0.8"/>
<path d="M13.00 -3.90 L54.80 -3.90 A1.48 3.90 0 0 1 54.80 3.90 L13.00 3.90 A1.48 3.90 0 0 1 13.00 -3.90 Z" fill="#fff" stroke="#333" stroke-width="0.8" />
<ellipse cx="54.80" cy="0" rx="1.48" ry="3.90" fill="#fff" stroke="#333" stroke-width="0.8"/>
<path d="M21.50 -4.40 L24.50 -4.40 A1.67 4.40 0 0 1 24.50 4.40 L21.50 4.40 A1.67 4.40 0 0 1 21.50 -4.40 Z" fill="#fff" stroke="#333" stroke-width="0.8" />
<ellipse cx="24.50" cy="0" rx="1.67" ry="4.40" fill="#fff" stroke="#333" stroke-width="0.8"/>
<path d="M39.00 -4.15 L40.80 -4.15 A1.58 4.15 0 0 1 40.80 4.15 L39.00 4.15 A1.58 4.15 0 0 1 39.00 -4.15 Z" fill="#fff" stroke="#333" stroke-width="0.8" />
<ellipse cx="40.80" cy="0" rx="1.58" ry="4.15" fill="#fff" stroke="#333" stroke-width="0.8"/>
<path d="M54.80 -2.90 L64.50 -2.90 A1.10 2.90 0 0 1 64.50 2.90 L54.80 2.90 A1.10 2.90 0 0 1 54.80 -2.90 Z" fill="#fff" stroke="#333" stroke-width="0.8" />
<path d="M55.68 -1.74 L65.38 -1.74" stroke="#444" stroke-width="0.65"/>
<path d="M55.88 -0.58 L65.58 -0.58" stroke="#444" stroke-width="0.65"/>
<path d="M55.88 0.58 L65.58 0.58" stroke="#444" stroke-width="0.65"/>
<path d="M55.68 1.74 L65.38 1.74" stroke="#444" stroke-width="0.65"/>
<ellipse cx="64.50" cy="0" rx="1.10" ry="2.90" fill="#fff" stroke="#333" stroke-width="0.8"/>
<path d="M64.50 -2.30 L71.50 -2.30 A0.87 2.30 0 0 1 71.50 2.30 L64.50 2.30 A0.87 2.30 0 0 1 64.50 -2.30 Z" fill="#fff" stroke="#333" stroke-width="0.8" />
<ellipse cx="71.50" cy="0" rx="0.87" ry="2.30" fill="#fff" stroke="#333" stroke-width="0.8"/>
</g>
<g transform="translate(406.80 312.80) rotate(27.00)">
<path d="M0.00 -2.40 L7.80 -2.40 A0.91 2.40 0 0 1 7.80 2.40 L0.00 2.40 A0.91 2.40 0 0 1 0.00 -2.40 Z" fill="#fff" stroke="#333" stroke-width="0.8" />
<path d="M0.97 -2.40 A0.91 2.40 0 0 1 0.97 2.40" fill="none" stroke="#555" stroke-width="0.55"/>
<path d="M1.95 -2.40 A0.91 2.40 0 0 1 1.95 2.40" fill="none" stroke="#555" stroke-width="0.55"/>
<path d="M2.92 -2.40 A0.91 2.40 0 0 1 2.92 2.40" fill="none" stroke="#555" stroke-width="0.55"/>
<path d="M3.90 -2.40 A0.91 2.40 0 0 1 3.90 2.40" fill="none" stroke="#555" stroke-width="0.55"/>
<path d="M4.88 -2.40 A0.91 2.40 0 0 1 4.88 2.40" fill="none" stroke="#555" stroke-width="0.55"/>
<path d="M5.85 -2.40 A0.91 2.40 0 0 1 5.85 2.40" fill="none" stroke="#555" stroke-width="0.55"/>
<path d="M6.83 -2.40 A0.91 2.40 0 0 1 6.83 2.40" fill="none" stroke="#555" stroke-width="0.55"/>
<ellipse cx="7.80" cy="0" rx="0.91" ry="2.40" fill="#fff" stroke="#333" stroke-width="0.8"/>
<path d="M7.80 -3.80 L27.00 -3.80 A1.44 3.80 0 0 1 27.00 3.80 L7.80 3.80 A1.44 3.80 0 0 1 7.80 -3.80 Z" fill="#fff" stroke="#333" stroke-width="0.8" />
<ellipse cx="27.00" cy="0" rx="1.44" ry="3.80" fill="#fff" stroke="#333" stroke-width="0.8"/>
<path d="M27.00 -3.90 L35.50 -3.90 A1.48 3.90 0 0 1 35.50 3.90 L27.00 3.90 A1.48 3.90 0 0 1 27.00 -3.90 Z" fill="#fff" stroke="#333" stroke-width="0.8" />
<path d="M28.06 -3.90 A1.48 3.90 0 0 1 28.06 3.90" fill="none" stroke="#555" stroke-width="0.55"/>
<path d="M29.12 -3.90 A1.48 3.90 0 0 1 29.12 3.90" fill="none" stroke="#555" stroke-width="0.55"/>
<path d="M30.19 -3.90 A1.48 3.90 0 0 1 30.19 3.90" fill="none" stroke="#555" stroke-width="0.55"/>
<path d="M31.25 -3.90 A1.48 3.90 0 0 1 31.25 3.90" fill="none" stroke="#555" stroke-width="0.55"/>
<path d="M32.31 -3.90 A1.48 3.90 0 0 1 32.31 3.90" fill="none" stroke="#555" stroke-width="0.55"/>
<path d="M33.38 -3.90 A1.48 3.90 0 0 1 33.38 3.90" fill="none" stroke="#555" stroke-width="0.55"/>
<path d="M34.44 -3.90 A1.48 3.90 0 0 1 34.44 3.90" fill="none" stroke="#555" stroke-width="0.55"/>
<ellipse cx="35.50" cy="0" rx="1.48" ry="3.90" fill="#fff" stroke="#333" stroke-width="0.8"/>
<path d="M35.50 -5.10 L48.70 -5.10 A1.94 5.10 0 0 1 48.70 5.10 L35.50 5.10 A1.94 5.10 0 0 1 35.50 -5.10 Z" fill="#fff" stroke="#333" stroke-width="0.8" />
<ellipse cx="48.70" cy="0" rx="1.94" ry="5.10" fill="#fff" stroke="#333" stroke-width="0.8"/>
<path d="M42.10 -5.10 A1.94 5.10 0 0 1 42.10 5.10" fill="none" stroke="#333" stroke-width="0.7"/>
<path d="M48.70 -4.30 L60.50 -4.30 A1.63 4.30 0 0 1 60.50 4.30 L48.70 4.30 A1.63 4.30 0 0 1 48.70 -4.30 Z" fill="#fff" stroke="#333" stroke-width="0.8" />
<path d="M49.77 -4.30 A1.63 4.30 0 0 1 49.77 4.30" fill="none" stroke="#555" stroke-width="0.55"/>
<path d="M50.85 -4.30 A1.63 4.30 0 0 1 50.85 4.30" fill="none" stroke="#555" stroke-width="0.55"/>
<path d="M51.92 -4.30 A1.63 4.30 0 0 1 51.92 4.30" fill="none" stroke="#555" stroke-width="0.55"/>
<path d="M52.99 -4.30 A1.63 4.30 0 0 1 52.99 4.30" fill="none" stroke="#555" stroke-width="0.55"/>
<path d="M54.06 -4.30 A1.63 4.30 0 0 1 54.06 4.30" fill="none" stroke="#555" stroke-width="0.55"/>
<path d="M55.14 -4.30 A1.63 4.30 0 0 1 55.14 4.30" fill="none" stroke="#555" stroke-width="0.55"/>
<path d="M56.21 -4.30 A1.63 4.30 0 0 1 56.21 4.30" fill="none" stroke="#555" stroke-width="0.55"/>
<path d="M57.28 -4.30 A1.63 4.30 0 0 1 57.28 4.30" fill="none" stroke="#555" stroke-width="0.55"/>
<path d="M58.35 -4.30 A1.63 4.30 0 0 1 58.35 4.30" fill="none" stroke="#555" stroke-width="0.55"/>
<path d="M59.43 -4.30 A1.63 4.30 0 0 1 59.43 4.30" fill="none" stroke="#555" stroke-width="0.55"/>
<ellipse cx="60.50" cy="0" rx="1.63" ry="4.30" fill="#fff" stroke="#333" stroke-width="0.8"/>
<path d="M60.50 -3.00 L67.50 -3.00 A1.14 3.00 0 0 1 67.50 3.00 L60.50 3.00 A1.14 3.00 0 0 1 60.50 -3.00 Z" fill="#fff" stroke="#333" stroke-width="0.8" />
<ellipse cx="67.50" cy="0" rx="1.14" ry="3.00" fill="#fff" stroke="#333" stroke-width="0.8"/>
</g>
<ellipse cx="506.60" cy="300.00" rx="9.20" ry="18.00" transform="rotate(22 506.60 300.00)" fill="#fff" stroke="none" stroke-width="0"/>
<ellipse cx="511.40" cy="300.25" rx="9.20" ry="18.00" transform="rotate(22 511.40 300.25)" fill="#fff" stroke="none" stroke-width="0"/>
<path d="M515.13 303.45 L514.31 305.31 L513.23 304.79 L512.42 306.35 L513.19 307.49 L512.17 309.17 L511.34 308.13 L510.39 309.48 L510.83 311.06 L509.67 312.45 L509.16 310.96 L508.11 312.02 L508.20 313.94 L506.98 314.95 L506.81 313.10 L505.74 313.80 L505.48 315.94 L504.26 316.52 L504.45 314.41 L503.43 314.71 L502.82 316.94 L501.70 317.04 L502.23 314.82 L501.31 314.70 L500.41 316.87 L499.44 316.50 L500.28 314.30 L499.53 313.77 L498.38 315.75 L497.63 314.91 L498.73 312.88 L498.19 311.97 L496.87 313.63 L496.38 312.39 L497.67 310.65 L497.38 309.42 L495.97 310.66 L495.78 309.09 L497.17 307.75 L497.14 306.28 L495.74 307.02 L495.85 305.22 L497.27 304.37 L497.51 302.74 L496.19 302.94 L496.61 301.03 L497.95 300.71 L498.44 299.03 L497.29 298.67 L497.99 296.76 L499.18 297.00 L499.89 295.38 L498.98 294.49 L499.91 292.70 L500.87 293.48 L501.76 292.02 L501.15 290.65 L502.25 289.10 L502.92 290.38 L503.93 289.17 L503.66 287.40 L504.86 286.19 L505.21 287.87 L506.27 286.99 L506.36 284.94 L507.59 284.14 L507.58 286.13 L508.63 285.63 L509.07 283.43 L510.25 283.09 L509.89 285.26 L510.87 285.17 L511.63 282.96 L512.68 283.10 L511.99 285.32 L512.83 285.65 L513.87 283.56 L514.73 284.17 L513.75 286.30 L514.41 287.03 L515.65 285.19 L516.27 286.24 L515.07 288.14 L515.49 289.22 L516.86 287.76 L517.20 289.17 L515.85 290.72 L516.01 292.09 L517.43 291.09 L517.47 292.78 L516.05 293.89 L515.95 295.45 L517.32 294.98 L517.05 296.85 L515.66 297.44 L515.29 299.11 L516.54 299.19 L515.98 301.11 L514.70 301.15 L514.09 302.82Z" fill="#fff" stroke="#333" stroke-width="0.7" />
<line x1="515.13" y1="303.45" x2="524.73" y2="303.95" stroke="#444" stroke-width="0.6" />
<line x1="514.31" y1="305.31" x2="523.91" y2="305.81" stroke="#444" stroke-width="0.6" />
<line x1="513.23" y1="304.79" x2="522.83" y2="305.29" stroke="#aaa" stroke-width="0.5" />
<line x1="513.19" y1="307.49" x2="522.79" y2="307.99" stroke="#444" stroke-width="0.6" />
<line x1="512.17" y1="309.17" x2="521.77" y2="309.67" stroke="#444" stroke-width="0.6" />
<line x1="511.34" y1="308.13" x2="520.94" y2="308.63" stroke="#aaa" stroke-width="0.5" />
<line x1="510.83" y1="311.06" x2="520.43" y2="311.56" stroke="#444" stroke-width="0.6" />
<line x1="509.67" y1="312.45" x2="519.27" y2="312.95" stroke="#444" stroke-width="0.6" />
<line x1="509.16" y1="310.96" x2="518.76" y2="311.46" stroke="#aaa" stroke-width="0.5" />
<line x1="508.20" y1="313.94" x2="517.80" y2="314.44" stroke="#444" stroke-width="0.6" />
<line x1="506.98" y1="314.95" x2="516.58" y2="315.45" stroke="#444" stroke-width="0.6" />
<line x1="506.81" y1="313.10" x2="516.41" y2="313.60" stroke="#aaa" stroke-width="0.5" />
<line x1="505.48" y1="315.94" x2="515.08" y2="316.44" stroke="#444" stroke-width="0.6" />
<line x1="504.26" y1="316.52" x2="513.86" y2="317.02" stroke="#444" stroke-width="0.6" />
<line x1="504.45" y1="314.41" x2="514.05" y2="314.91" stroke="#aaa" stroke-width="0.5" />
<line x1="502.82" y1="316.94" x2="512.42" y2="317.44" stroke="#444" stroke-width="0.6" />
<line x1="501.70" y1="317.04" x2="511.30" y2="317.54" stroke="#444" stroke-width="0.6" />
<line x1="502.23" y1="314.82" x2="511.83" y2="315.32" stroke="#aaa" stroke-width="0.5" />
<line x1="500.41" y1="316.87" x2="510.01" y2="317.37" stroke="#444" stroke-width="0.6" />
<line x1="499.44" y1="316.50" x2="509.04" y2="317.00" stroke="#444" stroke-width="0.6" />
<line x1="500.28" y1="314.30" x2="509.88" y2="314.80" stroke="#aaa" stroke-width="0.5" />
<line x1="498.38" y1="315.75" x2="507.98" y2="316.25" stroke="#444" stroke-width="0.6" />
<line x1="497.63" y1="314.91" x2="507.23" y2="315.41" stroke="#444" stroke-width="0.6" />
<line x1="498.73" y1="312.88" x2="508.33" y2="313.38" stroke="#aaa" stroke-width="0.5" />
<line x1="496.87" y1="313.63" x2="506.47" y2="314.13" stroke="#444" stroke-width="0.6" />
<line x1="496.38" y1="312.39" x2="505.98" y2="312.89" stroke="#444" stroke-width="0.6" />
<line x1="497.67" y1="310.65" x2="507.27" y2="311.15" stroke="#aaa" stroke-width="0.5" />
<line x1="495.97" y1="310.66" x2="505.57" y2="311.16" stroke="#444" stroke-width="0.6" />
<line x1="495.78" y1="309.09" x2="505.38" y2="309.59" stroke="#444" stroke-width="0.6" />
<line x1="497.17" y1="307.75" x2="506.77" y2="308.25" stroke="#aaa" stroke-width="0.5" />
<line x1="495.74" y1="307.02" x2="505.34" y2="307.52" stroke="#444" stroke-width="0.6" />
<line x1="495.85" y1="305.22" x2="505.45" y2="305.72" stroke="#444" stroke-width="0.6" />
<line x1="497.27" y1="304.37" x2="506.87" y2="304.87" stroke="#aaa" stroke-width="0.5" />
<line x1="496.19" y1="302.94" x2="505.79" y2="303.44" stroke="#444" stroke-width="0.6" />
<line x1="496.61" y1="301.03" x2="506.21" y2="301.53" stroke="#444" stroke-width="0.6" />
<line x1="497.95" y1="300.71" x2="507.55" y2="301.21" stroke="#aaa" stroke-width="0.5" />
<line x1="497.29" y1="298.67" x2="506.89" y2="299.17" stroke="#444" stroke-width="0.6" />
<line x1="497.99" y1="296.76" x2="507.59" y2="297.26" stroke="#444" stroke-width="0.6" />
<line x1="499.18" y1="297.00" x2="508.78" y2="297.50" stroke="#aaa" stroke-width="0.5" />
<line x1="498.98" y1="294.49" x2="508.58" y2="294.99" stroke="#444" stroke-width="0.6" />
<line x1="499.91" y1="292.70" x2="509.51" y2="293.20" stroke="#444" stroke-width="0.6" />
<line x1="500.87" y1="293.48" x2="510.47" y2="293.98" stroke="#aaa" stroke-width="0.5" />
<line x1="501.15" y1="290.65" x2="510.75" y2="291.15" stroke="#444" stroke-width="0.6" />
<line x1="502.25" y1="289.10" x2="511.85" y2="289.60" stroke="#444" stroke-width="0.6" />
<line x1="502.92" y1="290.38" x2="512.52" y2="290.88" stroke="#aaa" stroke-width="0.5" />
<line x1="503.66" y1="287.40" x2="513.26" y2="287.90" stroke="#444" stroke-width="0.6" />
<line x1="504.86" y1="286.19" x2="514.46" y2="286.69" stroke="#444" stroke-width="0.6" />
<line x1="505.21" y1="287.87" x2="514.81" y2="288.37" stroke="#aaa" stroke-width="0.5" />
<line x1="506.36" y1="284.94" x2="515.96" y2="285.44" stroke="#444" stroke-width="0.6" />
<line x1="507.59" y1="284.14" x2="517.19" y2="284.64" stroke="#444" stroke-width="0.6" />
<line x1="507.58" y1="286.13" x2="517.18" y2="286.63" stroke="#aaa" stroke-width="0.5" />
<line x1="509.07" y1="283.43" x2="518.67" y2="283.93" stroke="#444" stroke-width="0.6" />
<line x1="510.25" y1="283.09" x2="519.85" y2="283.59" stroke="#444" stroke-width="0.6" />
<line x1="509.89" y1="285.26" x2="519.49" y2="285.76" stroke="#aaa" stroke-width="0.5" />
<line x1="511.63" y1="282.96" x2="521.23" y2="283.46" stroke="#444" stroke-width="0.6" />
<line x1="512.68" y1="283.10" x2="522.28" y2="283.60" stroke="#444" stroke-width="0.6" />
<line x1="511.99" y1="285.32" x2="521.59" y2="285.82" stroke="#aaa" stroke-width="0.5" />
<line x1="513.87" y1="283.56" x2="523.47" y2="284.06" stroke="#444" stroke-width="0.6" />
<line x1="514.73" y1="284.17" x2="524.33" y2="284.67" stroke="#444" stroke-width="0.6" />
<line x1="513.75" y1="286.30" x2="523.35" y2="286.80" stroke="#aaa" stroke-width="0.5" />
<line x1="515.65" y1="285.19" x2="525.25" y2="285.69" stroke="#444" stroke-width="0.6" />
<line x1="516.27" y1="286.24" x2="525.87" y2="286.74" stroke="#444" stroke-width="0.6" />
<line x1="515.07" y1="288.14" x2="524.67" y2="288.64" stroke="#aaa" stroke-width="0.5" />
<line x1="516.86" y1="287.76" x2="526.46" y2="288.26" stroke="#444" stroke-width="0.6" />
<line x1="517.20" y1="289.17" x2="526.80" y2="289.67" stroke="#444" stroke-width="0.6" />
<line x1="515.85" y1="290.72" x2="525.45" y2="291.22" stroke="#aaa" stroke-width="0.5" />
<line x1="517.43" y1="291.09" x2="527.03" y2="291.59" stroke="#444" stroke-width="0.6" />
<line x1="517.47" y1="292.78" x2="527.07" y2="293.28" stroke="#444" stroke-width="0.6" />
<line x1="516.05" y1="293.89" x2="525.65" y2="294.39" stroke="#aaa" stroke-width="0.5" />
<line x1="517.32" y1="294.98" x2="526.92" y2="295.48" stroke="#444" stroke-width="0.6" />
<line x1="517.05" y1="296.85" x2="526.65" y2="297.35" stroke="#444" stroke-width="0.6" />
<line x1="515.66" y1="297.44" x2="525.26" y2="297.94" stroke="#aaa" stroke-width="0.5" />
<line x1="516.54" y1="299.19" x2="526.14" y2="299.69" stroke="#444" stroke-width="0.6" />
<line x1="515.98" y1="301.11" x2="525.58" y2="301.61" stroke="#444" stroke-width="0.6" />
<line x1="514.70" y1="301.15" x2="524.30" y2="301.65" stroke="#aaa" stroke-width="0.5" />
<path d="M524.73 303.95 L523.91 305.81 L522.83 305.29 L522.02 306.85 L522.79 307.99 L521.77 309.67 L520.94 308.63 L519.99 309.98 L520.43 311.56 L519.27 312.95 L518.76 311.46 L517.71 312.52 L517.80 314.44 L516.58 315.45 L516.41 313.60 L515.34 314.30 L515.08 316.44 L513.86 317.02 L514.05 314.91 L513.03 315.21 L512.42 317.44 L511.30 317.54 L511.83 315.32 L510.91 315.20 L510.01 317.37 L509.04 317.00 L509.88 314.80 L509.13 314.27 L507.98 316.25 L507.23 315.41 L508.33 313.38 L507.79 312.47 L506.47 314.13 L505.98 312.89 L507.27 311.15 L506.98 309.92 L505.57 311.16 L505.38 309.59 L506.77 308.25 L506.74 306.78 L505.34 307.52 L505.45 305.72 L506.87 304.87 L507.11 303.24 L505.79 303.44 L506.21 301.53 L507.55 301.21 L508.04 299.53 L506.89 299.17 L507.59 297.26 L508.78 297.50 L509.49 295.88 L508.58 294.99 L509.51 293.20 L510.47 293.98 L511.36 292.52 L510.75 291.15 L511.85 289.60 L512.52 290.88 L513.53 289.67 L513.26 287.90 L514.46 286.69 L514.81 288.37 L515.87 287.49 L515.96 285.44 L517.19 284.64 L517.18 286.63 L518.23 286.13 L518.67 283.93 L519.85 283.59 L519.49 285.76 L520.47 285.67 L521.23 283.46 L522.28 283.60 L521.59 285.82 L522.43 286.15 L523.47 284.06 L524.33 284.67 L523.35 286.80 L524.01 287.53 L525.25 285.69 L525.87 286.74 L524.67 288.64 L525.09 289.72 L526.46 288.26 L526.80 289.67 L525.45 291.22 L525.61 292.59 L527.03 291.59 L527.07 293.28 L525.65 294.39 L525.55 295.95 L526.92 295.48 L526.65 297.35 L525.26 297.94 L524.89 299.61 L526.14 299.69 L525.58 301.61 L524.30 301.65 L523.69 303.32Z" fill="#fff" stroke="#333" stroke-width="0.8" />
<ellipse cx="516.20" cy="300.50" rx="7.68" ry="15.03" transform="rotate(22 516.20 300.50)" fill="none" stroke="#333" stroke-width="0.7"/>
<ellipse cx="513.60" cy="301.80" rx="6.20" ry="9.60" transform="rotate(20 513.60 301.80)" fill="none" stroke="#333" stroke-width="0.8"/>
<g transform="translate(513.60 301.80) rotate(21.80)">
<path d="M0.00 -5.50 L10.70 -5.50 A1.65 5.50 0 0 1 10.70 5.50 L0.00 5.50 A1.65 5.50 0 0 1 0.00 -5.50 Z" fill="#fff" stroke="#333" stroke-width="0.8" />
<path d="M-0.69 -3.93 L11.85 -3.93" stroke="#3a3a3a" stroke-width="0.95"/>
<path d="M-0.89 -2.36 L12.19 -2.36" stroke="#3a3a3a" stroke-width="0.95"/>
<path d="M-0.98 -0.79 L12.33 -0.79" stroke="#3a3a3a" stroke-width="0.95"/>
<path d="M-0.98 0.79 L12.33 0.79" stroke="#3a3a3a" stroke-width="0.95"/>
<path d="M-0.89 2.36 L12.19 2.36" stroke="#3a3a3a" stroke-width="0.95"/>
<path d="M-0.69 3.93 L11.85 3.93" stroke="#3a3a3a" stroke-width="0.95"/>
<ellipse cx="10.70" cy="0" rx="1.65" ry="5.50" fill="#fff" stroke="#333" stroke-width="0.8"/>
<path d="M10.70 -2.50 L18.30 -2.50 A0.75 2.50 0 0 1 18.30 2.50 L10.70 2.50 A0.75 2.50 0 0 1 10.70 -2.50 Z" fill="#fff" stroke="#333" stroke-width="0.8" />
<ellipse cx="18.30" cy="0" rx="0.75" ry="2.50" fill="#fff" stroke="#333" stroke-width="0.8"/>
</g>
<ellipse cx="497.60" cy="362.50" rx="13.80" ry="22.30" transform="rotate(16 497.60 362.50)" fill="#fff" stroke="none" stroke-width="0"/>
<ellipse cx="503.90" cy="363.40" rx="13.80" ry="22.30" transform="rotate(16 503.90 363.40)" fill="#fff" stroke="none" stroke-width="0"/>
<path d="M510.87 366.30 L510.34 367.97 L509.01 367.59 L508.46 369.06 L509.60 369.97 L508.90 371.55 L507.70 370.80 L507.01 372.17 L507.96 373.41 L507.12 374.85 L506.08 373.76 L505.27 374.98 L506.01 376.51 L505.05 377.78 L504.21 376.37 L503.29 377.41 L503.81 379.19 L502.75 380.24 L502.13 378.56 L501.15 379.39 L501.42 381.37 L500.30 382.16 L499.92 380.27 L498.89 380.86 L498.91 382.97 L497.76 383.49 L497.63 381.43 L496.60 381.77 L496.36 383.94 L495.22 384.17 L495.35 382.02 L494.34 382.09 L493.85 384.27 L492.75 384.20 L493.13 382.02 L492.17 381.82 L491.45 383.94 L490.43 383.57 L491.05 381.42 L490.17 380.96 L489.24 382.95 L488.33 382.30 L489.17 380.25 L488.40 379.54 L487.29 381.34 L486.51 380.43 L487.54 378.54 L486.91 377.61 L485.64 379.16 L485.02 378.01 L486.22 376.34 L485.74 375.21 L484.36 376.48 L483.92 375.12 L485.25 373.72 L484.93 372.43 L483.49 373.37 L483.23 371.85 L484.65 370.76 L484.51 369.34 L483.04 369.92 L482.98 368.30 L484.44 367.55 L484.48 366.05 L483.03 366.26 L483.17 364.56 L484.64 364.19 L484.85 362.65 L483.47 362.48 L483.81 360.77 L485.22 360.77 L485.61 359.25 L484.33 358.70 L484.86 357.03 L486.19 357.41 L486.74 355.94 L485.60 355.03 L486.30 353.45 L487.50 354.20 L488.19 352.83 L487.24 351.59 L488.08 350.15 L489.12 351.24 L489.93 350.02 L489.19 348.49 L490.15 347.22 L490.99 348.63 L491.91 347.59 L491.39 345.81 L492.45 344.76 L493.07 346.44 L494.05 345.61 L493.78 343.63 L494.90 342.84 L495.28 344.73 L496.31 344.14 L496.29 342.03 L497.44 341.51 L497.57 343.57 L498.60 343.23 L498.84 341.06 L499.98 340.83 L499.85 342.98 L500.86 342.91 L501.35 340.73 L502.45 340.80 L502.07 342.98 L503.03 343.18 L503.75 341.06 L504.77 341.43 L504.15 343.58 L505.03 344.04 L505.96 342.05 L506.87 342.70 L506.03 344.75 L506.80 345.46 L507.91 343.66 L508.69 344.57 L507.66 346.46 L508.29 347.39 L509.56 345.84 L510.18 346.99 L508.98 348.66 L509.46 349.79 L510.84 348.52 L511.28 349.88 L509.95 351.28 L510.27 352.57 L511.71 351.63 L511.97 353.15 L510.55 354.24 L510.69 355.66 L512.16 355.08 L512.22 356.70 L510.76 357.45 L510.72 358.95 L512.17 358.74 L512.03 360.44 L510.56 360.81 L510.35 362.35 L511.73 362.52 L511.39 364.23 L509.98 364.23 L509.59 365.75Z" fill="#fff" stroke="#333" stroke-width="0.7" />
<line x1="510.87" y1="366.30" x2="523.47" y2="368.10" stroke="#444" stroke-width="0.6" />
<line x1="510.34" y1="367.97" x2="522.94" y2="369.77" stroke="#444" stroke-width="0.6" />
<line x1="509.01" y1="367.59" x2="521.61" y2="369.39" stroke="#aaa" stroke-width="0.5" />
<line x1="509.60" y1="369.97" x2="522.20" y2="371.77" stroke="#444" stroke-width="0.6" />
<line x1="508.90" y1="371.55" x2="521.50" y2="373.35" stroke="#444" stroke-width="0.6" />
<line x1="507.70" y1="370.80" x2="520.30" y2="372.60" stroke="#aaa" stroke-width="0.5" />
<line x1="507.96" y1="373.41" x2="520.56" y2="375.21" stroke="#444" stroke-width="0.6" />
<line x1="507.12" y1="374.85" x2="519.72" y2="376.65" stroke="#444" stroke-width="0.6" />
<line x1="506.08" y1="373.76" x2="518.68" y2="375.56" stroke="#aaa" stroke-width="0.5" />
<line x1="506.01" y1="376.51" x2="518.61" y2="378.31" stroke="#444" stroke-width="0.6" />
<line x1="505.05" y1="377.78" x2="517.65" y2="379.58" stroke="#444" stroke-width="0.6" />
<line x1="504.21" y1="376.37" x2="516.81" y2="378.17" stroke="#aaa" stroke-width="0.5" />
<line x1="503.81" y1="379.19" x2="516.41" y2="380.99" stroke="#444" stroke-width="0.6" />
<line x1="502.75" y1="380.24" x2="515.35" y2="382.04" stroke="#444" stroke-width="0.6" />
<line x1="502.13" y1="378.56" x2="514.73" y2="380.36" stroke="#aaa" stroke-width="0.5" />
<line x1="501.42" y1="381.37" x2="514.02" y2="383.17" stroke="#444" stroke-width="0.6" />
<line x1="500.30" y1="382.16" x2="512.90" y2="383.96" stroke="#444" stroke-width="0.6" />
<line x1="499.92" y1="380.27" x2="512.52" y2="382.07" stroke="#aaa" stroke-width="0.5" />
<line x1="498.91" y1="382.97" x2="511.51" y2="384.77" stroke="#444" stroke-width="0.6" />
<line x1="497.76" y1="383.49" x2="510.36" y2="385.29" stroke="#444" stroke-width="0.6" />
<line x1="497.63" y1="381.43" x2="510.23" y2="383.23" stroke="#aaa" stroke-width="0.5" />
<line x1="496.36" y1="383.94" x2="508.96" y2="385.74" stroke="#444" stroke-width="0.6" />
<line x1="495.22" y1="384.17" x2="507.82" y2="385.97" stroke="#444" stroke-width="0.6" />
<line x1="495.35" y1="382.02" x2="507.95" y2="383.82" stroke="#aaa" stroke-width="0.5" />
<line x1="493.85" y1="384.27" x2="506.45" y2="386.07" stroke="#444" stroke-width="0.6" />
<line x1="492.75" y1="384.20" x2="505.35" y2="386.00" stroke="#444" stroke-width="0.6" />
<line x1="493.13" y1="382.02" x2="505.73" y2="383.82" stroke="#aaa" stroke-width="0.5" />
<line x1="491.45" y1="383.94" x2="504.05" y2="385.74" stroke="#444" stroke-width="0.6" />
<line x1="490.43" y1="383.57" x2="503.03" y2="385.37" stroke="#444" stroke-width="0.6" />
<line x1="491.05" y1="381.42" x2="503.65" y2="383.22" stroke="#aaa" stroke-width="0.5" />
<line x1="489.24" y1="382.95" x2="501.84" y2="384.75" stroke="#444" stroke-width="0.6" />
<line x1="488.33" y1="382.30" x2="500.93" y2="384.10" stroke="#444" stroke-width="0.6" />
<line x1="489.17" y1="380.25" x2="501.77" y2="382.05" stroke="#aaa" stroke-width="0.5" />
<line x1="487.29" y1="381.34" x2="499.89" y2="383.14" stroke="#444" stroke-width="0.6" />
<line x1="486.51" y1="380.43" x2="499.11" y2="382.23" stroke="#444" stroke-width="0.6" />
<line x1="487.54" y1="378.54" x2="500.14" y2="380.34" stroke="#aaa" stroke-width="0.5" />
<line x1="485.64" y1="379.16" x2="498.24" y2="380.96" stroke="#444" stroke-width="0.6" />
<line x1="485.02" y1="378.01" x2="497.62" y2="379.81" stroke="#444" stroke-width="0.6" />
<line x1="486.22" y1="376.34" x2="498.82" y2="378.14" stroke="#aaa" stroke-width="0.5" />
<line x1="484.36" y1="376.48" x2="496.96" y2="378.28" stroke="#444" stroke-width="0.6" />
<line x1="483.92" y1="375.12" x2="496.52" y2="376.92" stroke="#444" stroke-width="0.6" />
<line x1="485.25" y1="373.72" x2="497.85" y2="375.52" stroke="#aaa" stroke-width="0.5" />
<line x1="483.49" y1="373.37" x2="496.09" y2="375.17" stroke="#444" stroke-width="0.6" />
<line x1="483.23" y1="371.85" x2="495.83" y2="373.65" stroke="#444" stroke-width="0.6" />
<line x1="484.65" y1="370.76" x2="497.25" y2="372.56" stroke="#aaa" stroke-width="0.5" />
<line x1="483.04" y1="369.92" x2="495.64" y2="371.72" stroke="#444" stroke-width="0.6" />
<line x1="482.98" y1="368.30" x2="495.58" y2="370.10" stroke="#444" stroke-width="0.6" />
<line x1="484.44" y1="367.55" x2="497.04" y2="369.35" stroke="#aaa" stroke-width="0.5" />
<line x1="483.03" y1="366.26" x2="495.63" y2="368.06" stroke="#444" stroke-width="0.6" />
<line x1="483.17" y1="364.56" x2="495.77" y2="366.36" stroke="#444" stroke-width="0.6" />
<line x1="484.64" y1="364.19" x2="497.24" y2="365.99" stroke="#aaa" stroke-width="0.5" />
<line x1="483.47" y1="362.48" x2="496.07" y2="364.28" stroke="#444" stroke-width="0.6" />
<line x1="483.81" y1="360.77" x2="496.41" y2="362.57" stroke="#444" stroke-width="0.6" />
<line x1="485.22" y1="360.77" x2="497.82" y2="362.57" stroke="#aaa" stroke-width="0.5" />
<line x1="484.33" y1="358.70" x2="496.93" y2="360.50" stroke="#444" stroke-width="0.6" />
<line x1="484.86" y1="357.03" x2="497.46" y2="358.83" stroke="#444" stroke-width="0.6" />
<line x1="486.19" y1="357.41" x2="498.79" y2="359.21" stroke="#aaa" stroke-width="0.5" />
<line x1="485.60" y1="355.03" x2="498.20" y2="356.83" stroke="#444" stroke-width="0.6" />
<line x1="486.30" y1="353.45" x2="498.90" y2="355.25" stroke="#444" stroke-width="0.6" />
<line x1="487.50" y1="354.20" x2="500.10" y2="356.00" stroke="#aaa" stroke-width="0.5" />
<line x1="487.24" y1="351.59" x2="499.84" y2="353.39" stroke="#444" stroke-width="0.6" />
<line x1="488.08" y1="350.15" x2="500.68" y2="351.95" stroke="#444" stroke-width="0.6" />
<line x1="489.12" y1="351.24" x2="501.72" y2="353.04" stroke="#aaa" stroke-width="0.5" />
<line x1="489.19" y1="348.49" x2="501.79" y2="350.29" stroke="#444" stroke-width="0.6" />
<line x1="490.15" y1="347.22" x2="502.75" y2="349.02" stroke="#444" stroke-width="0.6" />
<line x1="490.99" y1="348.63" x2="503.59" y2="350.43" stroke="#aaa" stroke-width="0.5" />
<line x1="491.39" y1="345.81" x2="503.99" y2="347.61" stroke="#444" stroke-width="0.6" />
<line x1="492.45" y1="344.76" x2="505.05" y2="346.56" stroke="#444" stroke-width="0.6" />
<line x1="493.07" y1="346.44" x2="505.67" y2="348.24" stroke="#aaa" stroke-width="0.5" />
<line x1="493.78" y1="343.63" x2="506.38" y2="345.43" stroke="#444" stroke-width="0.6" />
<line x1="494.90" y1="342.84" x2="507.50" y2="344.64" stroke="#444" stroke-width="0.6" />
<line x1="495.28" y1="344.73" x2="507.88" y2="346.53" stroke="#aaa" stroke-width="0.5" />
<line x1="496.29" y1="342.03" x2="508.89" y2="343.83" stroke="#444" stroke-width="0.6" />
<line x1="497.44" y1="341.51" x2="510.04" y2="343.31" stroke="#444" stroke-width="0.6" />
<line x1="497.57" y1="343.57" x2="510.17" y2="345.37" stroke="#aaa" stroke-width="0.5" />
<line x1="498.84" y1="341.06" x2="511.44" y2="342.86" stroke="#444" stroke-width="0.6" />
<line x1="499.98" y1="340.83" x2="512.58" y2="342.63" stroke="#444" stroke-width="0.6" />
<line x1="499.85" y1="342.98" x2="512.45" y2="344.78" stroke="#aaa" stroke-width="0.5" />
<line x1="501.35" y1="340.73" x2="513.95" y2="342.53" stroke="#444" stroke-width="0.6" />
<line x1="502.45" y1="340.80" x2="515.05" y2="342.60" stroke="#444" stroke-width="0.6" />
<line x1="502.07" y1="342.98" x2="514.67" y2="344.78" stroke="#aaa" stroke-width="0.5" />
<line x1="503.75" y1="341.06" x2="516.35" y2="342.86" stroke="#444" stroke-width="0.6" />
<line x1="504.77" y1="341.43" x2="517.37" y2="343.23" stroke="#444" stroke-width="0.6" />
<line x1="504.15" y1="343.58" x2="516.75" y2="345.38" stroke="#aaa" stroke-width="0.5" />
<line x1="505.96" y1="342.05" x2="518.56" y2="343.85" stroke="#444" stroke-width="0.6" />
<line x1="506.87" y1="342.70" x2="519.47" y2="344.50" stroke="#444" stroke-width="0.6" />
<line x1="506.03" y1="344.75" x2="518.63" y2="346.55" stroke="#aaa" stroke-width="0.5" />
<line x1="507.91" y1="343.66" x2="520.51" y2="345.46" stroke="#444" stroke-width="0.6" />
<line x1="508.69" y1="344.57" x2="521.29" y2="346.37" stroke="#444" stroke-width="0.6" />
<line x1="507.66" y1="346.46" x2="520.26" y2="348.26" stroke="#aaa" stroke-width="0.5" />
<line x1="509.56" y1="345.84" x2="522.16" y2="347.64" stroke="#444" stroke-width="0.6" />
<line x1="510.18" y1="346.99" x2="522.78" y2="348.79" stroke="#444" stroke-width="0.6" />
<line x1="508.98" y1="348.66" x2="521.58" y2="350.46" stroke="#aaa" stroke-width="0.5" />
<line x1="510.84" y1="348.52" x2="523.44" y2="350.32" stroke="#444" stroke-width="0.6" />
<line x1="511.28" y1="349.88" x2="523.88" y2="351.68" stroke="#444" stroke-width="0.6" />
<line x1="509.95" y1="351.28" x2="522.55" y2="353.08" stroke="#aaa" stroke-width="0.5" />
<line x1="511.71" y1="351.63" x2="524.31" y2="353.43" stroke="#444" stroke-width="0.6" />
<line x1="511.97" y1="353.15" x2="524.57" y2="354.95" stroke="#444" stroke-width="0.6" />
<line x1="510.55" y1="354.24" x2="523.15" y2="356.04" stroke="#aaa" stroke-width="0.5" />
<line x1="512.16" y1="355.08" x2="524.76" y2="356.88" stroke="#444" stroke-width="0.6" />
<line x1="512.22" y1="356.70" x2="524.82" y2="358.50" stroke="#444" stroke-width="0.6" />
<line x1="510.76" y1="357.45" x2="523.36" y2="359.25" stroke="#aaa" stroke-width="0.5" />
<line x1="512.17" y1="358.74" x2="524.77" y2="360.54" stroke="#444" stroke-width="0.6" />
<line x1="512.03" y1="360.44" x2="524.63" y2="362.24" stroke="#444" stroke-width="0.6" />
<line x1="510.56" y1="360.81" x2="523.16" y2="362.61" stroke="#aaa" stroke-width="0.5" />
<line x1="511.73" y1="362.52" x2="524.33" y2="364.32" stroke="#444" stroke-width="0.6" />
<line x1="511.39" y1="364.23" x2="523.99" y2="366.03" stroke="#444" stroke-width="0.6" />
<line x1="509.98" y1="364.23" x2="522.58" y2="366.03" stroke="#aaa" stroke-width="0.5" />
<path d="M523.47 368.10 L522.94 369.77 L521.61 369.39 L521.06 370.86 L522.20 371.77 L521.50 373.35 L520.30 372.60 L519.61 373.97 L520.56 375.21 L519.72 376.65 L518.68 375.56 L517.87 376.78 L518.61 378.31 L517.65 379.58 L516.81 378.17 L515.89 379.21 L516.41 380.99 L515.35 382.04 L514.73 380.36 L513.75 381.19 L514.02 383.17 L512.90 383.96 L512.52 382.07 L511.49 382.66 L511.51 384.77 L510.36 385.29 L510.23 383.23 L509.20 383.57 L508.96 385.74 L507.82 385.97 L507.95 383.82 L506.94 383.89 L506.45 386.07 L505.35 386.00 L505.73 383.82 L504.77 383.62 L504.05 385.74 L503.03 385.37 L503.65 383.22 L502.77 382.76 L501.84 384.75 L500.93 384.10 L501.77 382.05 L501.00 381.34 L499.89 383.14 L499.11 382.23 L500.14 380.34 L499.51 379.41 L498.24 380.96 L497.62 379.81 L498.82 378.14 L498.34 377.01 L496.96 378.28 L496.52 376.92 L497.85 375.52 L497.53 374.23 L496.09 375.17 L495.83 373.65 L497.25 372.56 L497.11 371.14 L495.64 371.72 L495.58 370.10 L497.04 369.35 L497.08 367.85 L495.63 368.06 L495.77 366.36 L497.24 365.99 L497.45 364.45 L496.07 364.28 L496.41 362.57 L497.82 362.57 L498.21 361.05 L496.93 360.50 L497.46 358.83 L498.79 359.21 L499.34 357.74 L498.20 356.83 L498.90 355.25 L500.10 356.00 L500.79 354.63 L499.84 353.39 L500.68 351.95 L501.72 353.04 L502.53 351.82 L501.79 350.29 L502.75 349.02 L503.59 350.43 L504.51 349.39 L503.99 347.61 L505.05 346.56 L505.67 348.24 L506.65 347.41 L506.38 345.43 L507.50 344.64 L507.88 346.53 L508.91 345.94 L508.89 343.83 L510.04 343.31 L510.17 345.37 L511.20 345.03 L511.44 342.86 L512.58 342.63 L512.45 344.78 L513.46 344.71 L513.95 342.53 L515.05 342.60 L514.67 344.78 L515.63 344.98 L516.35 342.86 L517.37 343.23 L516.75 345.38 L517.63 345.84 L518.56 343.85 L519.47 344.50 L518.63 346.55 L519.40 347.26 L520.51 345.46 L521.29 346.37 L520.26 348.26 L520.89 349.19 L522.16 347.64 L522.78 348.79 L521.58 350.46 L522.06 351.59 L523.44 350.32 L523.88 351.68 L522.55 353.08 L522.87 354.37 L524.31 353.43 L524.57 354.95 L523.15 356.04 L523.29 357.46 L524.76 356.88 L524.82 358.50 L523.36 359.25 L523.32 360.75 L524.77 360.54 L524.63 362.24 L523.16 362.61 L522.95 364.15 L524.33 364.32 L523.99 366.03 L522.58 366.03 L522.19 367.55Z" fill="#fff" stroke="#333" stroke-width="0.8" />
<ellipse cx="510.20" cy="364.30" rx="11.92" ry="19.27" transform="rotate(16 510.20 364.30)" fill="none" stroke="#333" stroke-width="0.7"/>
<ellipse cx="508.00" cy="364.20" rx="6.30" ry="8.40" transform="rotate(16 508.00 364.20)" fill="none" stroke="#333" stroke-width="0.8"/>
<ellipse cx="508.20" cy="364.40" rx="4.10" ry="5.60" transform="rotate(16 508.20 364.40)" fill="none" stroke="#333" stroke-width="0.7"/>
<ellipse cx="508.30" cy="364.50" rx="3.10" ry="4.40" transform="rotate(16 508.30 364.50)" fill="#bbb" stroke="#444" stroke-width="1.2"/>
<ellipse cx="508.60" cy="364.70" rx="1.50" ry="2.40" transform="rotate(16 508.60 364.70)" fill="#eee" stroke="#333" stroke-width="0.6"/>
<ellipse cx="491.40" cy="285.90" rx="3.50" ry="5.30" transform="rotate(25 491.40 285.90)" fill="#fff" stroke="#333" stroke-width="0.7"/>
<ellipse cx="492.00" cy="286.00" rx="3.50" ry="5.30" transform="rotate(25 492.00 286.00)" fill="#fff" stroke="#333" stroke-width="0.85"/>
<ellipse cx="492.00" cy="286.00" rx="1.75" ry="2.65" transform="rotate(25 492.00 286.00)" fill="none" stroke="#333" stroke-width="0.8"/>
<ellipse cx="539.30" cy="316.20" rx="3.90" ry="6.20" transform="rotate(25 539.30 316.20)" fill="#fff" stroke="#333" stroke-width="0.7"/>
<ellipse cx="539.90" cy="316.30" rx="3.90" ry="6.20" transform="rotate(25 539.90 316.30)" fill="#fff" stroke="#333" stroke-width="0.85"/>
<ellipse cx="539.90" cy="316.30" rx="1.87" ry="2.98" transform="rotate(25 539.90 316.30)" fill="none" stroke="#333" stroke-width="0.8"/>
<ellipse cx="525.80" cy="378.20" rx="3.90" ry="5.40" transform="rotate(22 525.80 378.20)" fill="#fff" stroke="#333" stroke-width="0.7"/>
<ellipse cx="526.40" cy="378.30" rx="3.90" ry="5.40" transform="rotate(22 526.40 378.30)" fill="#fff" stroke="#333" stroke-width="0.85"/>
<ellipse cx="526.40" cy="378.30" rx="2.15" ry="2.97" transform="rotate(22 526.40 378.30)" fill="none" stroke="#333" stroke-width="0.8"/>
<ellipse cx="477.00" cy="351.30" rx="4.60" ry="5.50" transform="rotate(20 477.00 351.30)" fill="#fff" stroke="#333" stroke-width="0.7"/>
<ellipse cx="477.70" cy="351.20" rx="4.60" ry="5.50" transform="rotate(20 477.70 351.20)" fill="#fff" stroke="#333" stroke-width="0.95"/>
<ellipse cx="477.90" cy="351.00" rx="3.20" ry="4.10" transform="rotate(20 477.90 351.00)" fill="none" stroke="#333" stroke-width="0.95"/>
<path d="M478.60 345.40 L479.60 343.60 L480.60 345.90" fill="none" stroke="#333" stroke-width="0.8" />
<g transform="translate(459.30 255.00) rotate(22.00)">
<path d="M0.00 -2.50 L9.80 -2.50 A1.12 2.50 0 0 1 9.80 2.50 L0.00 2.50 A1.12 2.50 0 0 1 0.00 -2.50 Z" fill="#fff" stroke="#333" stroke-width="0.8" />
<ellipse cx="9.80" cy="0" rx="1.12" ry="2.50" fill="#fff" stroke="#333" stroke-width="0.8"/>
</g>
<g transform="translate(459.30 255.00) rotate(22.00)"><ellipse cx="9.80" cy="0" rx="0.67" ry="1.50" fill="#ddd" stroke="#333" stroke-width="0.6"/></g>
<g transform="translate(421.80 298.80) rotate(22.00)">
<path d="M0.00 -2.20 L8.50 -2.20 A0.99 2.20 0 0 1 8.50 2.20 L0.00 2.20 A0.99 2.20 0 0 1 0.00 -2.20 Z" fill="#fff" stroke="#333" stroke-width="0.8" />
<ellipse cx="8.50" cy="0" rx="0.99" ry="2.20" fill="#fff" stroke="#333" stroke-width="0.8"/>
</g>
<g transform="translate(421.80 298.80) rotate(22.00)"><ellipse cx="8.50" cy="0" rx="0.59" ry="1.32" fill="#ddd" stroke="#333" stroke-width="0.6"/></g>
<rect x="261.3" y="279.5" width="2.2" height="6" fill="#eee" stroke="#333" stroke-width="0.7"/>
<ellipse cx="262.60" cy="286.60" rx="2.80" ry="1.90" transform="rotate(0 262.60 286.60)" fill="#ddd" stroke="#333" stroke-width="0.8"/>
<ellipse cx="262.60" cy="285.90" rx="2.40" ry="1.40" transform="rotate(0 262.60 285.90)" fill="#eee" stroke="#333" stroke-width="0.6"/>
<ellipse cx="262.40" cy="278.40" rx="3.30" ry="1.80" transform="rotate(0 262.40 278.40)" fill="#ddd" stroke="#333" stroke-width="0.8"/>
<ellipse cx="262.40" cy="278.00" rx="2.00" ry="0.90" transform="rotate(0 262.40 278.00)" fill="#eee" stroke="#333" stroke-width="0.6"/>
<g id="wm" style="mix-blend-mode:multiply">
<defs><clipPath id="lc"><rect x="240" y="200" width="40.3" height="95"/></clipPath><clipPath id="rc"><rect x="304.6" y="200" width="112" height="95"/></clipPath><mask id="wmm" maskUnits="userSpaceOnUse" x="240" y="195" width="190" height="105"><ellipse cx="330.9" cy="245.6" rx="77.5" ry="42.7" fill="#fff"/><ellipse cx="330.9" cy="245.6" rx="69.4" ry="34.2" fill="#000"/><rect x="280.2" y="205" width="24.6" height="82" fill="#fff"/><path d="M303.00 238.50 C303.58 235.00 305.10 234.52 306.50 232.50 C307.90 230.48 309.73 228.05 311.40 226.40 C313.07 224.75 314.58 223.73 316.50 222.60 C318.42 221.47 320.32 220.57 322.90 219.60 C325.48 218.63 329.15 217.57 332.00 216.80 C334.85 216.03 336.67 215.47 340.00 215.00 C343.33 214.53 347.50 214.00 352.00 214.00 C356.50 214.00 362.33 214.43 367.00 215.00 C371.67 215.57 376.50 216.15 380.00 217.40 C383.50 218.65 385.67 220.57 388.00 222.50 C390.33 224.43 392.25 226.58 394.00 229.00 C395.75 231.42 397.45 234.17 398.50 237.00 C399.55 239.83 400.30 243.00 400.30 246.00 C400.30 249.00 399.55 252.17 398.50 255.00 C397.45 257.83 395.75 260.58 394.00 263.00 C392.25 265.42 390.33 267.57 388.00 269.50 C385.67 271.43 383.50 273.35 380.00 274.60 C376.50 275.85 371.67 276.43 367.00 277.00 C362.33 277.57 356.50 278.00 352.00 278.00 C347.50 278.00 343.33 277.47 340.00 277.00 C336.67 276.53 334.85 275.97 332.00 275.20 C329.15 274.43 325.48 273.37 322.90 272.40 C320.32 271.43 318.42 270.53 316.50 269.40 C314.58 268.27 313.07 267.25 311.40 265.60 C309.73 263.95 307.90 261.52 306.50 259.50 C305.10 257.48 303.58 257.00 303.00 253.50 C302.42 250.00 302.42 242.00 303.00 238.50Z" fill="#fff" clip-path="url(#rc)"/><ellipse cx="364.3" cy="246" rx="36" ry="27.2" fill="#000"/></mask><clipPath id="e0"><ellipse cx="330.9" cy="245.6" rx="77.5" ry="42.7"/></clipPath></defs>
<g clip-path="url(#e0)"><rect x="240" y="195" width="190" height="105" fill="#d0d0d0" mask="url(#wmm)"/></g>
<text transform="translate(257.8 325.6) scale(1.55 1)" font-size="30.8" fill="#d0d0d0" stroke="#d0d0d0" stroke-width="1.6" stroke-linejoin="miter" style="font-family:'Liberation Mono',monospace;font-weight:bold">KYMCO</text>
</g>
</svg>
</body></html>
